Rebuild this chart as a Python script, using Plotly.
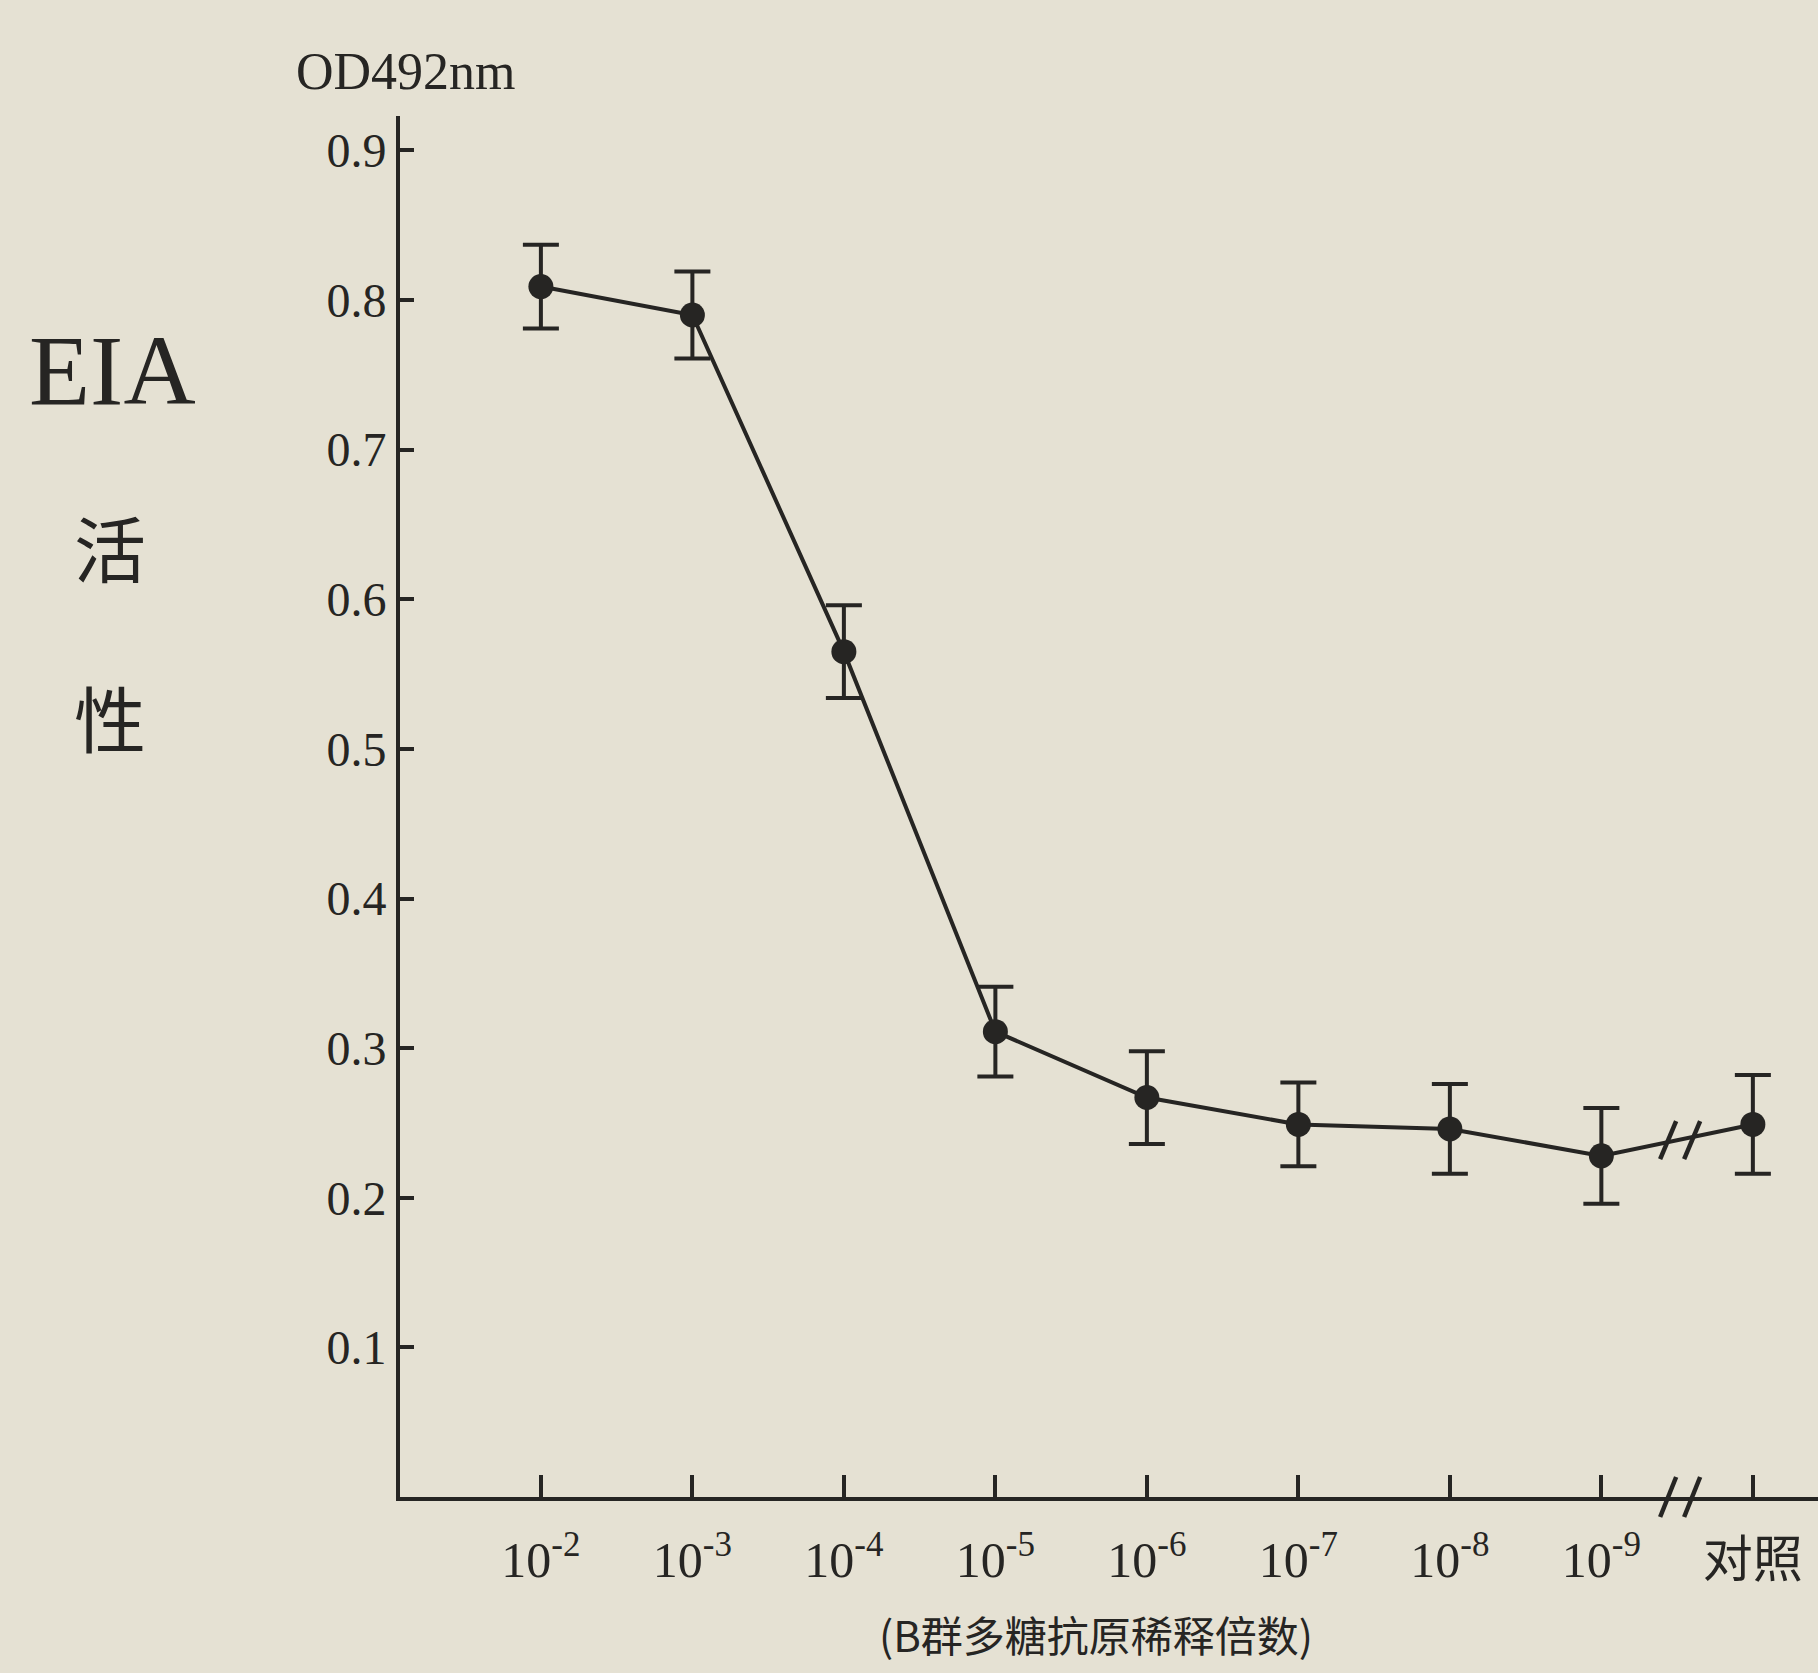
import plotly.graph_objects as go

# Dilutions of group-B polysaccharide antigen, plus the control well
dilution_labels = ["10<sup>-2</sup>", "10<sup>-3</sup>", "10<sup>-4</sup>", "10<sup>-5</sup>",
                   "10<sup>-6</sup>", "10<sup>-7</sup>", "10<sup>-8</sup>", "10<sup>-9</sup>", "对照"]
od_mean = [0.809, 0.790, 0.565, 0.311, 0.267, 0.249, 0.246, 0.228, 0.249]
od_err = [0.028, 0.029, 0.031, 0.030, 0.031, 0.028, 0.030, 0.032, 0.033]
y_ticks = [0.1, 0.2, 0.3, 0.4, 0.5, 0.6, 0.7, 0.8, 0.9]

INK = "#262523"
PAPER = "#e5e1d3"
SERIF = "Liberation Serif, Times New Roman, serif"
CJK = "Noto Sans CJK SC, sans-serif"

xs = list(range(len(dilution_labels)))

fig = go.Figure()
fig.add_trace(go.Scatter(
    x=xs, y=od_mean, mode="lines+markers",
    line=dict(color=INK, width=4),
    marker=dict(color=INK, size=25),
    error_y=dict(type="data", array=od_err, visible=True,
                 color=INK, thickness=4, width=18),
    showlegend=False, hoverinfo="skip",
))

# axis break between the last dilution and the control
brk_x = (xs[-2] + xs[-1]) / 2 + 0.02
brk_y = (od_mean[-2] + od_mean[-1]) / 2
shapes = []
for off in (-12, 12):
    shapes.append(dict(type="line", xref="x", yref="y", xsizemode="pixel", ysizemode="pixel",
                       xanchor=brk_x, yanchor=brk_y, x0=off - 8, x1=off + 8, y0=-19, y1=19,
                       line=dict(color=INK, width=4.5)))
    shapes.append(dict(type="line", xref="x", yref="paper", xsizemode="pixel", ysizemode="pixel",
                       xanchor=brk_x, yanchor=0, x0=off - 8, x1=off + 8, y0=-20, y1=20,
                       line=dict(color=INK, width=4.5)))

annotations = [
    dict(text="EIA", x=-0.2024, y=0.8154, font=dict(family=SERIF, size=100, color=INK)),
    dict(text="活", x=-0.2045, y=0.689, font=dict(family=CJK, size=72, color=INK)),
    dict(text="性", x=-0.2045, y=0.566, font=dict(family=CJK, size=72, color=INK)),
    dict(text="OD492nm", x=0.004, y=1.032, font=dict(family=SERIF, size=52, color=INK)),
    dict(text="(B群多糖抗原稀释倍数)", x=0.491, y=-0.099, font=dict(family=CJK, size=42, color=INK)),
]
for a in annotations:
    a.update(xref="paper", yref="paper", showarrow=False, xanchor="center", yanchor="middle")

fig.update_layout(
    width=1818, height=1673,
    paper_bgcolor=PAPER, plot_bgcolor=PAPER,
    margin=dict(l=400, r=0, t=116, b=176),
    shapes=shapes, annotations=annotations,
    xaxis=dict(range=[-0.93, 8.43], tickvals=xs, ticktext=dilution_labels,
               showline=True, linecolor=INK, linewidth=4, showgrid=False, zeroline=False,
               ticks="inside", ticklen=22, tickwidth=3.5, tickcolor=INK,
               ticklabelstandoff=16,
               tickfont=dict(family=SERIF + ", " + CJK, size=50, color=INK)),
    yaxis=dict(range=[0, 0.923], tickvals=y_ticks, ticktext=[f"{v:.1f}" for v in y_ticks],
               showline=True, linecolor=INK, linewidth=4, showgrid=False, zeroline=False,
               ticks="inside", ticklen=14, tickwidth=3.5, tickcolor=INK,
               tickfont=dict(family=SERIF, size=48, color=INK)),
)

fig.write_html("out.html")
